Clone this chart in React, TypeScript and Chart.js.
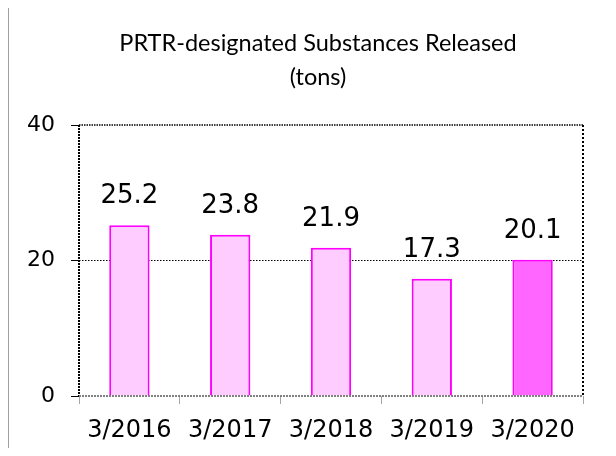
import React, { useEffect, useRef } from "react";
import { Chart, registerables } from "chart.js";

Chart.register(...registerables);

const categories = ["3/2016", "3/2017", "3/2018", "3/2019", "3/2020"];
const released = [25.2, 23.8, 21.9, 17.3, 20.1];
const valueLabels = ["25.2", "23.8", "21.9", "17.3", "20.1"];
const fillColors = ["#FFCCFF", "#FFCCFF", "#FFCCFF", "#FFCCFF", "#FF66FF"];
const titleLines = ["PRTR-designated Substances Released", "(tons)"];
const yTicks = [0, 20, 40];

const framePlugin = {
  id: "frame",
  beforeDraw(chart: any) {
    const ctx = chart.ctx;
    ctx.save();
    ctx.fillStyle = "#ffffff";
    ctx.fillRect(0, 0, chart.width, chart.height);
    ctx.strokeStyle = "#a0a0a0";
    ctx.lineWidth = 1;
    ctx.strokeRect(8.5, 7.5, 603, 460);
    ctx.fillStyle = "#000";
    ctx.font = "23.5px Lato";
    ctx.textAlign = "center";
    ctx.textBaseline = "alphabetic";
    ctx.fillText(titleLines[0], 318, 51);
    ctx.fillText(titleLines[1], 318, 85);
    ctx.restore();
  },
  afterDatasetsDraw(chart: any) {
    const ctx = chart.ctx;
    const a = chart.chartArea;
    ctx.save();
    // top and right dotted borders
    ctx.strokeStyle = "#000";
    ctx.lineWidth = 2;
    ctx.setLineDash([2, 2]);
    ctx.beginPath();
    ctx.moveTo(a.right, a.top);
    ctx.lineTo(a.right, a.bottom);
    ctx.stroke();
    ctx.lineWidth = 1.5;
    ctx.setLineDash([1.5, 1]);
    ctx.beginPath();
    ctx.moveTo(a.left, a.top);
    ctx.lineTo(a.right, a.top);
    ctx.stroke();
    // left axis dotted black
    ctx.lineWidth = 2;
    ctx.setLineDash([2, 1]);
    ctx.beginPath();
    ctx.moveTo(a.left, a.top);
    ctx.lineTo(a.left, a.bottom);
    ctx.stroke();
    // bottom axis dotted gray
    ctx.strokeStyle = "#808080";
    ctx.setLineDash([2, 1]);
    ctx.beginPath();
    ctx.moveTo(a.left, a.bottom);
    ctx.lineTo(a.right, a.bottom);
    ctx.stroke();
    ctx.setLineDash([]);
    const meta = chart.getDatasetMeta(0);
    ctx.fillStyle = "#000";
    ctx.font = "26px 'DejaVu Sans'";
    ctx.textAlign = "center";
    ctx.textBaseline = "alphabetic";
    meta.data.forEach((bar: any, i: number) => {
      ctx.fillText(valueLabels[i], bar.x, bar.y - 22);
    });
    ctx.restore();
  },
};

export default function App() {
  const ref = useRef<HTMLCanvasElement>(null);
  useEffect(() => {
    if (!ref.current) return;
    const chart = new Chart(ref.current, {
      type: "bar",
      data: {
        labels: categories,
        datasets: [
          {
            data: released,
            backgroundColor: fillColors,
            borderColor: "#FF00FF",
            borderWidth: 2,
            barPercentage: 0.4,
            categoryPercentage: 1,
          },
        ],
      },
      options: {
        animation: false,
        responsive: false,
        layout: { padding: { left: 0, top: 125, right: 33, bottom: 0 } },
        plugins: { legend: { display: false }, tooltip: { enabled: false }, title: { display: false } },
        scales: {
          x: {
            afterFit(scale: any) {
              scale.height = 60;
            },
            grid: {
              offset: true,
              drawOnChartArea: false,
              drawTicks: true,
              tickLength: 8,
              tickColor: "#a6a6a6",
            },
            border: { display: false },
            ticks: {
              color: "#000",
              font: { family: "'DejaVu Sans'", size: 24 },
              padding: 12,
              maxRotation: 0,
            },
          },
          y: {
            min: 0,
            max: 40,
            afterFit(scale: any) {
              scale.width = 79;
            },
            afterBuildTicks(scale: any) {
              scale.ticks = yTicks.map((v) => ({ value: v }));
            },
            grid: {
              color: (c: any) =>
                c.tick && (c.tick.value === 0 || c.tick.value === 40) ? "rgba(0,0,0,0)" : "#000",
              lineWidth: 1,
              tickLength: 8,
              tickColor: "#000",
              tickBorderDash: [],
            },
            border: { display: false, dash: [1.5, 1.5] },
            ticks: {
              color: "#000",
              font: { family: "'DejaVu Sans'", size: 22 },
              padding: 16,
            },
          },
        },
      },
      plugins: [framePlugin],
    } as any);
    return () => chart.destroy();
  }, []);
  return (
    <div style={{ margin: -8, width: 616, height: 456 }}>
      <canvas ref={ref} width={616} height={456} style={{ display: "block" }} />
    </div>
  );
}
